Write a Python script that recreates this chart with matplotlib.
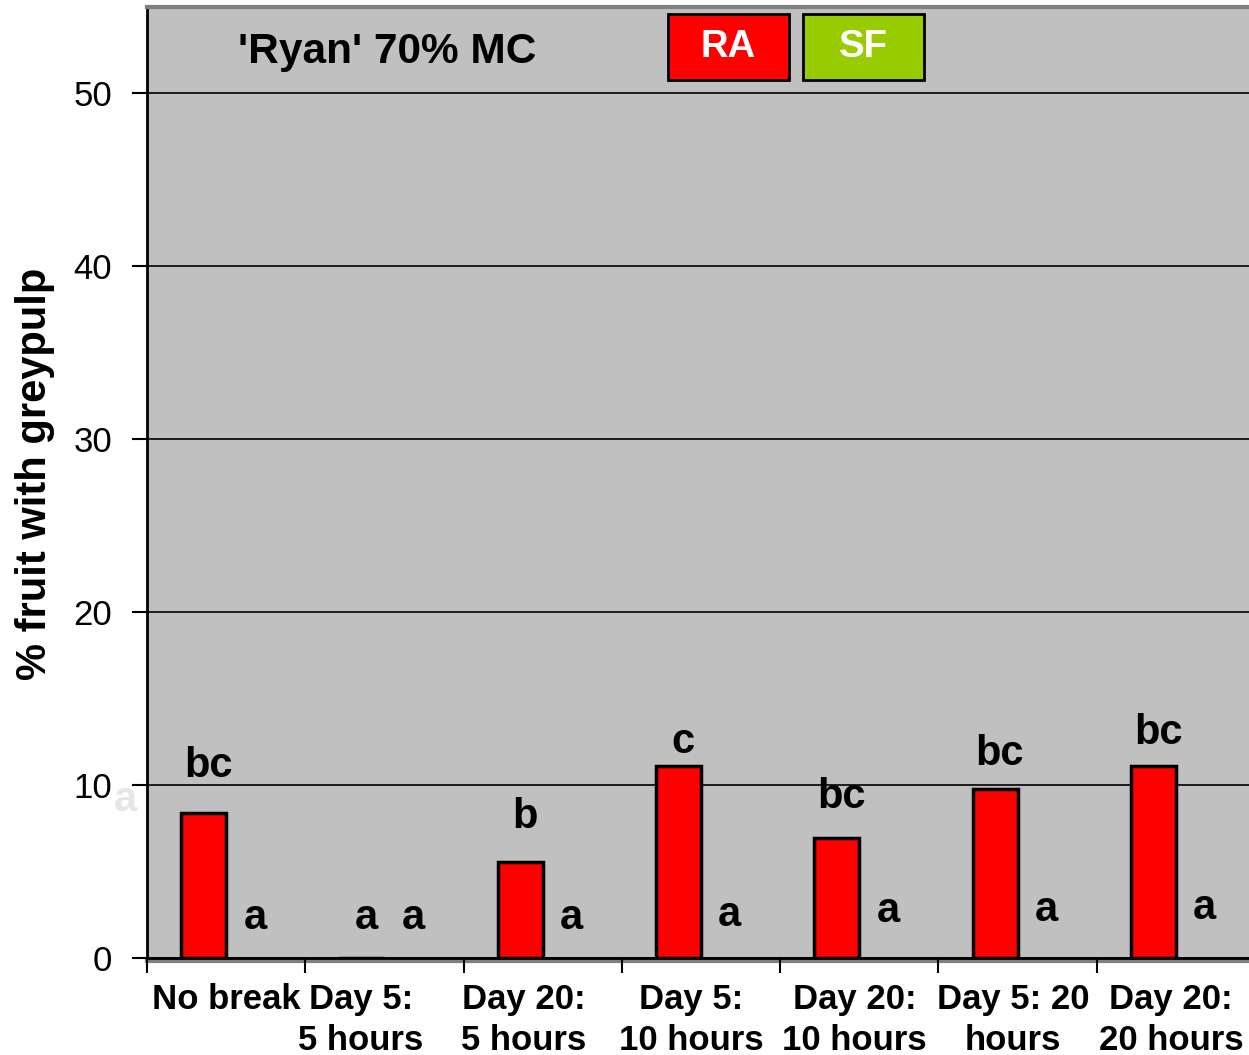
import numpy as np
import matplotlib.pyplot as plt

plt.rcParams['font.family'] = ['Liberation Sans', 'DejaVu Sans']

categories = ['No break', 'Day 5:\n5 hours', 'Day 20:\n5 hours', 'Day 5:\n10 hours',
              'Day 20:\n10 hours', 'Day 5: 20\nhours', 'Day 20:\n20 hours']
ra = [8.4, 0.0, 5.55, 11.1, 6.95, 9.75, 11.1]
sf = [0, 0, 0, 0, 0, 0, 0]
ra_letters = ['bc', 'a', 'b', 'c', 'bc', 'bc', 'bc']
ra_letter_y = [11.1, 2.3, 8.15, 12.5, 9.3, 11.8, 13.0]
sf_letters = ['a', 'a', 'a', 'a', 'a', 'a', 'a']
sf_letter_y = [2.3, 2.3, 2.3, 2.5, 2.7, 2.8, 2.9]
label_pos = [0.5, 1.35, 2.38, 3.44, 4.47, 5.47, 6.47]

W, H = 1249, 1055
fig = plt.figure(figsize=(W / 100, H / 100), dpi=100)
ax = fig.add_axes([147 / W, 1 - 958 / H, (1255 - 147) / W, (958 - 7) / H])
ax.set_facecolor('#c0c0c0')

x = np.arange(len(categories)) + 0.5
w = 0.284
ax.bar(x - w / 2, ra, w, color='#ff0000', edgecolor='black', linewidth=2.5, zorder=3)
ax.bar(x + w / 2, sf, w, color='#99cc00', edgecolor='none', linewidth=0, zorder=3)

for i in range(len(categories)):
    ax.text(x[i] - w / 2 + 0.03, ra_letter_y[i], ra_letters[i], ha='center', va='center',
            fontsize=30, fontweight='bold', zorder=4)
    ax.text(x[i] + w / 2 + 0.04, sf_letter_y[i], sf_letters[i], ha='center', va='center',
            fontsize=30, fontweight='bold', zorder=4)

ax.set_xlim(0, 7)
ax.set_ylim(0, 55)
ax.set_yticks([0, 10, 20, 30, 40, 50])
ax.grid(axis='y', color='black', linewidth=1.2, zorder=1)
ax.tick_params(axis='y', length=11, width=1.5, pad=14, labelsize=25)

ax.set_xticks(np.arange(0, 8))
ax.set_xticklabels([])
ax.tick_params(axis='x', which='major', length=11, width=1.5, direction='out')
ax.set_xticks(label_pos, minor=True)
ax.set_xticklabels(categories, minor=True, fontsize=25, fontweight='bold', linespacing=1.3)
ax.tick_params(axis='x', which='minor', length=0, pad=18)

ax.spines['left'].set_linewidth(2)
ax.spines['bottom'].set_linewidth(2)
ax.spines['top'].set_color('#808080')
ax.spines['top'].set_linewidth(3)
ax.spines['right'].set_visible(False)
ax.axhline(-0.2, color='#808080', linewidth=3, clip_on=False, zorder=0)

ax.set_ylabel('% fruit with greypulp', fontsize=30, fontweight='bold')
ax.yaxis.set_label_coords((55 - 147) / (1255 - 147), 0.509)

fig.text(387 / W, 1 - 52 / H, "'Ryan' 70% MC", fontsize=30.5, fontweight='bold',
         ha='center', va='center')

# legend boxes
for x0, lab, col in [(668, 'RA', '#ff0000'), (803, 'SF', '#99cc00')]:
    fig.patches.append(plt.Rectangle((x0 / W, 1 - 80 / H), 121 / W, 66 / H,
                                     transform=fig.transFigure, facecolor=col,
                                     edgecolor='black', linewidth=2, zorder=5))
    fig.text((x0 + 60) / W, 1 - 47 / H, lab, color='white', fontsize=27.5,
             fontweight='bold', ha='center', va='center', zorder=6)

fig.text(125 / W, 1 - 800 / H, 'a', color='#e6e6e6', fontsize=30, fontweight='bold',
         ha='center', va='center')

fig.savefig('out.png', dpi=100)
